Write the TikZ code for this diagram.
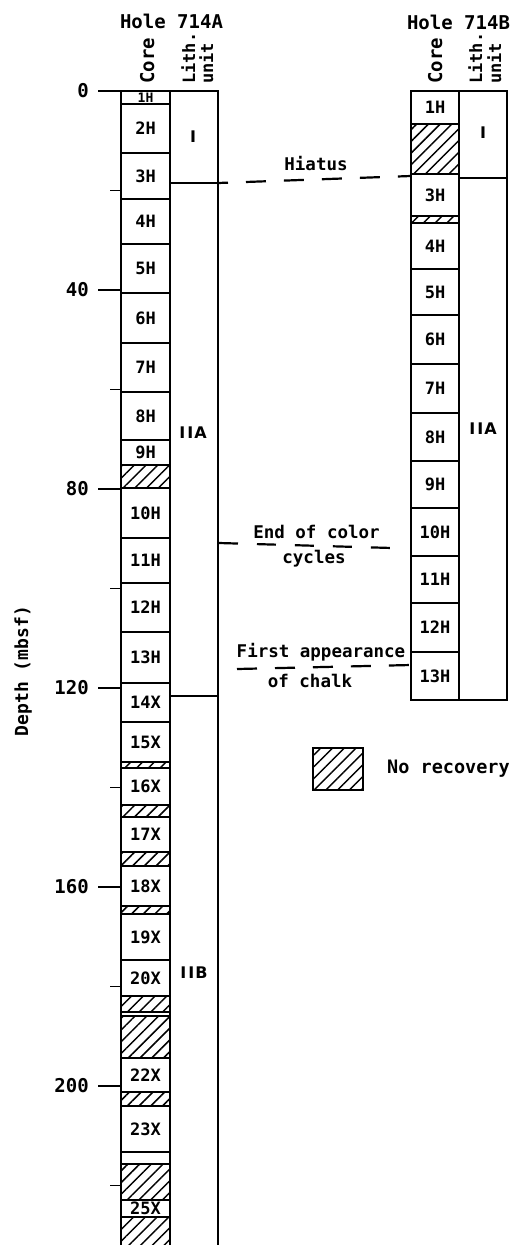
\documentclass[tikz,border=0pt]{standalone}
\usepackage{fontspec}
\setmainfont{DejaVu Sans}
\newfontfamily\lblfont{DejaVu Sans Mono}
\usetikzlibrary{patterns.meta}
\tikzset{
  corebox/.style={draw, line width=1.8pt, minimum width=49pt, inner sep=0pt, outer sep=0pt,
    font=\lblfont\bfseries\fontsize{17}{17}\selectfont},
  hatchbox/.style={draw, line width=1.8pt, minimum width=49pt, inner sep=0pt, outer sep=0pt,
    pattern={Lines[angle=45,distance=8.3pt,line width=1.5pt]}, pattern color=black},
  col/.style={draw, line width=1.8pt},
  tick/.style={line width=1.8pt},
  dashline/.style={line width=2.2pt},
  hdr/.style={font=\lblfont\bfseries\fontsize{19}{19}\selectfont, inner sep=0pt},
  rothdr/.style={rotate=90, anchor=base west, inner sep=0pt},
  depthlbl/.style={anchor=east, inner sep=0pt, font=\lblfont\bfseries\fontsize{19}{19}\selectfont},
  lithlbl/.style={inner sep=0pt, font=\bfseries\fontsize{16}{16}\selectfont},
  annot/.style={inner sep=0pt, font=\lblfont\bfseries\fontsize{17.5}{17.5}\selectfont},
}
\begin{document}
\begin{tikzpicture}[x=1pt,y=-1pt]
\useasboundingbox (0,0) rectangle (512,1245);
\clip (0,0) rectangle (512,1245);
% ---------- Hole 714A ----------
\node[hdr] (hdrA) at (171.5,21) {Hole 714A};
\node[rothdr, font=\lblfont\bfseries\fontsize{19}{19}\selectfont] (coreA) at (154,84) {Core};
\node[rothdr, font=\lblfont\bfseries\fontsize{17}{17}\selectfont] (lithA) at (195,84) {Lith.};
\node[rothdr, font=\lblfont\bfseries\fontsize{17}{17}\selectfont] (unitA) at (213,84) {unit};
% columns
\draw[col] (121,91) rectangle (218,1260);
\draw[col] (98,91) -- (121,91);
% cores
\foreach \t/\b/\l in {104/153/2H,153/199/3H,199/244/4H,244/293/5H,293/343/6H,343/392/7H,
  392/440/8H,440/465/9H,488/538/10H,538/583/11H,583/632/12H,632/683/13H,683/722/14X,
  722/762/15X,768/805/16X,817/852/17X,866/906/18X,914/960/19X,960/996/20X,1058/1092/22X,
  1106/1152/23X,1200/1217/25X}{
  \pgfmathsetmacro\h{\b-\t}
  \pgfmathsetmacro\m{(\b+\t)/2}
  \node[corebox, minimum height=\h pt] (A\l) at (145.5,\m) {\l};
}
\node[corebox, minimum height=13pt, font=\lblfont\bfseries\fontsize{13}{13}\selectfont] (A1H) at (145.5,97.5) {1H};
\node[corebox, minimum height=4pt] (Ae1) at (145.5,1014) {};
\node[corebox, minimum height=12pt] (Ae2) at (145.5,1158) {};
\foreach \t/\b in {465/488,762/768,805/817,852/866,906/914,996/1012,1016/1058,1092/1106,1164/1200,1217/1262}{
  \pgfmathsetmacro\h{\b-\t}
  \pgfmathsetmacro\m{(\b+\t)/2}
  \node[hatchbox, minimum height=\h pt] (Ah\t) at (145.5,\m) {};
}
% lith units 714A
\draw[col] (170,183) -- (218,183);
\draw[col] (170,696) -- (218,696);
\node[lithlbl] (AI) at (193,137) {I};
\node[lithlbl] (AIIA) at (193,433) {I\kern2pt I\kern1pt A};
\node[lithlbl] (AIIB) at (194,973) {I\kern2pt I\kern1pt B};
% depth scale
\foreach \d/\y in {0/91,40/290,80/489,120/688,160/887,200/1086}{
  \draw[tick] (98,\y) -- (121,\y);
  \node[depthlbl] (d\d) at (89,\y) {\d};
}
\foreach \y in {190.5,389.5,588.5,787.5,986.5,1185.5}{
  \draw[tick] (110,\y) -- (121,\y);
}
\node[rotate=90, anchor=base, inner sep=0pt, font=\lblfont\bfseries\fontsize{18}{18}\selectfont] (depthtitle) at (28,671) {Depth (mbsf)};
% ---------- Hole 714B ----------
\node[hdr] (hdrB) at (458.5,22) {Hole 714B};
\node[rothdr, font=\lblfont\bfseries\fontsize{19}{19}\selectfont] (coreB) at (442,84) {Core};
\node[rothdr, font=\lblfont\bfseries\fontsize{17}{17}\selectfont] (lithB) at (482,84) {Lith.};
\node[rothdr, font=\lblfont\bfseries\fontsize{17}{17}\selectfont] (unitB) at (501,84) {unit};
\foreach \t/\b/\l in {91/124/1H,174/216/3H,223/269/4H,269/315/5H,315/364/6H,364/413/7H,
  413/461/8H,461/508/9H,508/556/10H,556/603/11H,603/652/12H,652/700/13H}{
  \pgfmathsetmacro\h{\b-\t}
  \pgfmathsetmacro\m{(\b+\t)/2}
  \node[corebox, minimum height=\h pt, minimum width=48pt] (B\l) at (435,\m) {\l};
}
\foreach \t/\b in {124/174,216/223}{
  \pgfmathsetmacro\h{\b-\t}
  \pgfmathsetmacro\m{(\b+\t)/2}
  \node[hatchbox, minimum height=\h pt, minimum width=48pt] (Bh\t) at (435,\m) {};
}
\draw[col] (459,91) rectangle (507,700);
\draw[col] (459,178) -- (507,178);
\node[lithlbl] (BI) at (483,133) {I};
\node[lithlbl] (BIIA) at (483,429) {I\kern2pt I\kern1pt A};
% ---------- correlations ----------
\coordinate (hA) at (218,183);
\coordinate (hB) at (411,176);
\draw[dashline, dash pattern=on 20pt off 18pt, dash phase=10pt] (hA) -- (hB);
\node[annot] (hiatus) at (316,164) {Hiatus};
\coordinate (eA) at (219,543);
\coordinate (eB) at (392,548);
\draw[dashline, dash pattern=on 19pt off 19pt] (eA) -- (eB);
\node[annot] (endc) at (316.5,532) {End of color};
\node[annot] (cyc) at (314,559) {cycles};
\coordinate (fA) at (237,669);
\coordinate (fB) at (411,665);
\draw[dashline, dash pattern=on 20pt off 18pt] (fA) -- (fB);
\node[annot] (first) at (321,652) {First appearance};
\node[annot] (chalk) at (310,681) {of chalk};
% ---------- legend ----------
\node[hatchbox, minimum width=50pt, minimum height=42pt] (legbox) at (338,769) {};
\node[anchor=west, inner sep=0pt, font=\lblfont\bfseries\fontsize{18.5}{18.5}\selectfont] (legtxt) at (387,769) {No recovery};
\end{tikzpicture}
\end{document}
